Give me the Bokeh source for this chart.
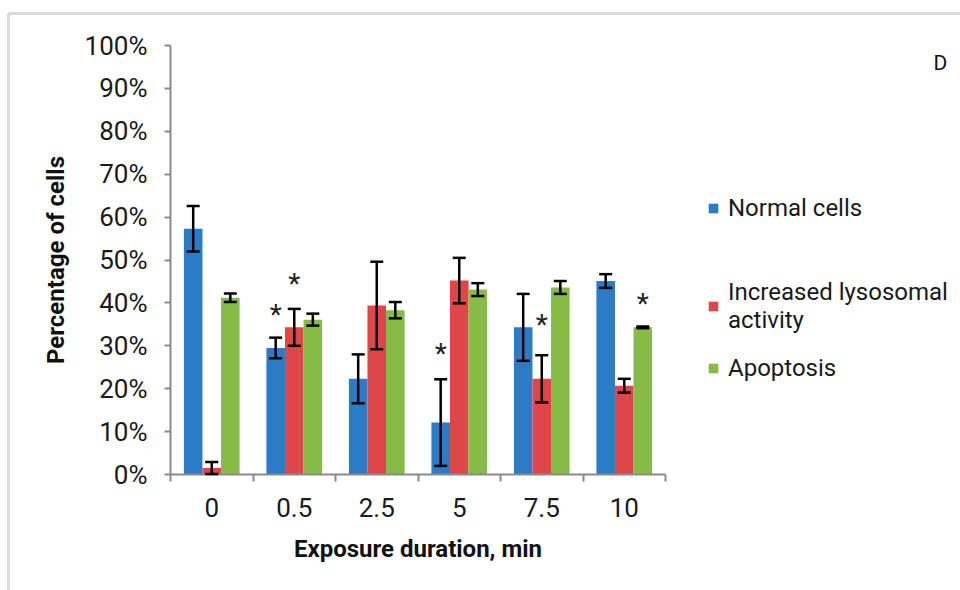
from bokeh.plotting import figure
from bokeh.models import (Range1d, FixedTicker, NumeralTickFormatter, Whisker, TeeHead,
                          ColumnDataSource, Legend, LegendItem, Label, BoxAnnotation)
from bokeh.core.properties import value
from bokeh.embed import file_html
from bokeh.resources import INLINE

# ---- data ----
categories = ["0", "0.5", "2.5", "5", "7.5", "10"]
normal = [0.573, 0.295, 0.223, 0.121, 0.343, 0.451]
normal_err = [0.053, 0.024, 0.057, 0.101, 0.078, 0.016]
lyso = [0.015, 0.343, 0.394, 0.452, 0.223, 0.207]
lyso_err = [0.014, 0.043, 0.102, 0.053, 0.055, 0.016]
apop = [0.412, 0.361, 0.383, 0.431, 0.436, 0.343]
apop_err = [0.010, 0.014, 0.019, 0.015, 0.015, 0.002]
series_names = ["Normal cells", "Increased lysosomal\nactivity", "Apoptosis"]
stars_normal = {"0.5": 0.390, "5": 0.298}
stars_lyso = {"0.5": 0.462, "7.5": 0.367}
stars_apop = {"10": 0.415}
y_ticks = [0.0, 0.1, 0.2, 0.3, 0.4, 0.5, 0.6, 0.7, 0.8, 0.9, 1.0]
x_title = "Exposure duration, min"
y_title = "Percentage of cells"
panel_letter = "D"

# ---- layout / style ----
W, H = 960, 590
AX_L, AX_R, AX_T, AX_B = 170, 665, 45, 474   # pixel box of the axes area
legend_bottoms = [222, 334, 382]             # pixel rows (from top) of each legend entry's bottom
colors = ["#2B7BC6", "#DE474A", "#86BC46"]
offsets = [-0.225, 0.0, 0.225]
bar_w = 0.225
FONT = "Roboto"
AXIS_C = "#8a8a8a"

n = len(categories)
centers = [i + 0.5 for i in range(n)]
boundaries = list(range(n + 1))
cat_pos = dict(zip(categories, centers))

ppx = (AX_R - AX_L) / n           # pixels per category
ppy = (AX_B - AX_T) / 1.0         # pixels per unit
x_range = Range1d(-AX_L / ppx, (W - AX_L) / ppx)
y_range = Range1d(-(H - AX_B) / ppy, AX_B / ppy)

p = figure(width=W, height=H, x_range=x_range, y_range=y_range,
           output_backend="svg", toolbar_location=None,
           min_border=0, min_border_left=0, min_border_right=0, min_border_top=0,
           min_border_bottom=0, outline_line_color=None)
p.grid.grid_line_color = None

# y axis
ya = p.yaxis[0]
ya.fixed_location = 0
ya.bounds = (0, 1)
ya.ticker = FixedTicker(ticks=y_ticks)
ya.formatter = NumeralTickFormatter(format="0%")
ya.major_tick_out = 6
ya.major_tick_in = 0
ya.minor_tick_line_color = None
ya.axis_line_color = AXIS_C
ya.axis_line_width = 2
ya.major_tick_line_color = AXIS_C
ya.major_tick_line_width = 2
ya.major_label_text_font = FONT
ya.major_label_text_font_size = "26px"
ya.major_label_text_color = "#1a1a1a"
ya.major_label_standoff = 17
ya.axis_label = y_title
ya.axis_label_text_font = FONT
ya.axis_label_text_font_size = "24px"
ya.axis_label_text_font_style = "bold"
ya.axis_label_text_color = "#111111"
ya.axis_label_standoff = 12

# x axis: labels at category centres, ticks between categories
xa = p.xaxis[0]
xa.fixed_location = 0
xa.bounds = (0, n)
xa.ticker = FixedTicker(ticks=centers, minor_ticks=boundaries)
xa.major_label_overrides = {c: lab for c, lab in zip(centers, categories)}
xa.major_tick_line_color = None
xa.major_tick_out = 0
xa.major_tick_in = 0
xa.minor_tick_out = 7
xa.minor_tick_in = 0
xa.minor_tick_line_color = AXIS_C
xa.minor_tick_line_width = 2
xa.axis_line_color = AXIS_C
xa.axis_line_width = 2
xa.major_label_text_font = FONT
xa.major_label_text_font_size = "26px"
xa.major_label_text_color = "#1a1a1a"
xa.major_label_standoff = 16
xa.axis_label = x_title
xa.axis_label_text_font = FONT
xa.axis_label_text_font_size = "24px"
xa.axis_label_text_font_style = "bold"
xa.axis_label_text_color = "#111111"
xa.axis_label_standoff = 15

# bars + error bars
renderers = []
for vals, errs, col, off in zip([normal, lyso, apop], [normal_err, lyso_err, apop_err], colors, offsets):
    src = ColumnDataSource(dict(x=[c + off for c in centers], top=vals,
                                up=[v + e for v, e in zip(vals, errs)],
                                lo=[max(v - e, 0) for v, e in zip(vals, errs)]))
    r = p.vbar(x="x", top="top", width=bar_w, source=src, fill_color=col, line_color=None)
    renderers.append(r)
    w = Whisker(source=src, base="x", upper="up", lower="lo", level="overlay",
                line_color="black", line_width=2.5,
                upper_head=TeeHead(size=13, line_color="black", line_width=2.5),
                lower_head=TeeHead(size=13, line_color="black", line_width=2.5))
    p.add_layout(w)

# significance stars
for stars, off in zip([stars_normal, stars_lyso, stars_apop], offsets):
    s = ColumnDataSource(dict(x=[cat_pos[k] + off for k in stars.keys()], y=list(stars.values())))
    p.text(x="x", y="y", text=value("*"), source=s,
           text_font=value(FONT), text_font_size="28px", text_align="center",
           text_baseline="middle", text_color="#222222", y_offset=7)

# legend: one entry per Legend so each can sit at its own row
for nm, r, bottom in zip(series_names, renderers, legend_bottoms):
    lg = Legend(items=[LegendItem(label=nm, renderers=[r])],
                location=(707, H - bottom), glyph_width=12, glyph_height=12, label_standoff=9,
                label_text_font=FONT, label_text_font_size="24px", label_text_color="#1a1a1a",
                padding=0, margin=0, border_line_color=None, background_fill_alpha=0)
    p.add_layout(lg, "center")

p.add_layout(Label(x=940, y=H - 62, x_units="screen", y_units="screen", text=panel_letter,
                   text_font=FONT, text_font_size="21px", text_color="#111111",
                   text_align="center", text_baseline="middle"))

p.add_layout(BoxAnnotation(left=8, right=W + 20, top=H - 13, bottom=-20, left_units="screen",
                           right_units="screen", top_units="screen", bottom_units="screen",
                           fill_alpha=0, line_color="#888888", line_width=3))

open("out.html", "w").write(file_html(p, INLINE))
